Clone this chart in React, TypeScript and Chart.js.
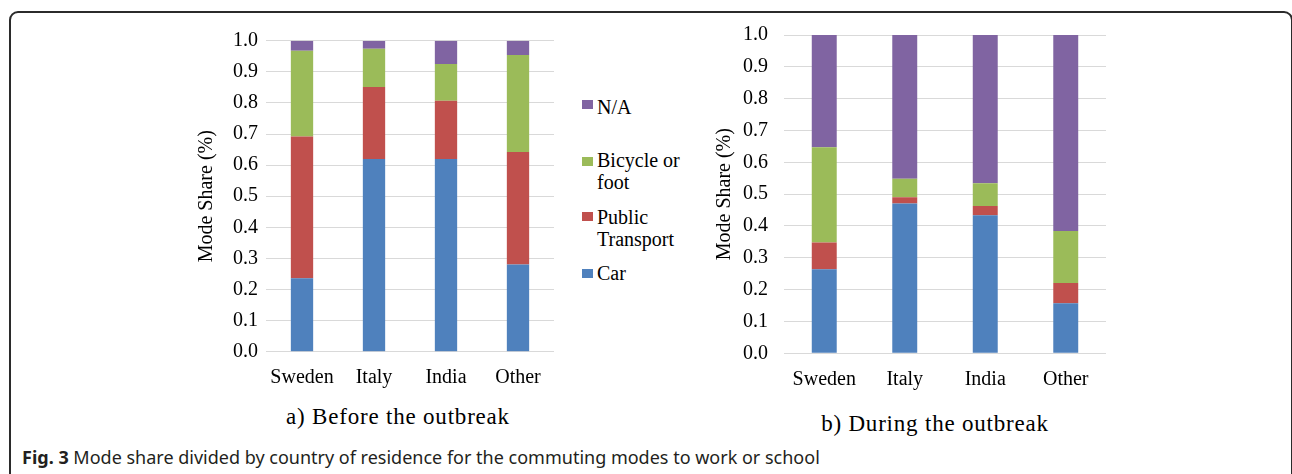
import React, { useEffect, useRef } from 'react';
import { Chart, registerables } from 'chart.js';

Chart.register(...registerables);

const categories = ['Sweden', 'Italy', 'India', 'Other'];
const seriesNames = ['Car', 'Public Transport', 'Bicycle or foot', 'N/A'];
const seriesColors = ['#4F81BD', '#C0504D', '#9BBB59', '#8064A2'];

const beforeCar = [0.236, 0.62, 0.62, 0.28];
const beforePublic = [0.456, 0.231, 0.187, 0.362];
const beforeBike = [0.276, 0.123, 0.118, 0.312];
const beforeNA = [0.032, 0.025, 0.075, 0.046];

const duringCar = [0.264, 0.471, 0.434, 0.157];
const duringPublic = [0.084, 0.019, 0.029, 0.064];
const duringBike = [0.299, 0.058, 0.071, 0.163];
const duringNA = [0.353, 0.452, 0.466, 0.616];

const yTickLabels = ['0.0', '0.1', '0.2', '0.3', '0.4', '0.5', '0.6', '0.7', '0.8', '0.9', '1.0'];
const yAxisTitle = 'Mode Share (%)';

const legendEntries = [
  { idx: 3, lines: ['N/A'] },
  { idx: 2, lines: ['Bicycle or', 'foot'] },
  { idx: 1, lines: ['Public', 'Transport'] },
  { idx: 0, lines: ['Car'] },
];

const SERIF = '"Liberation Serif", "Times New Roman", serif';

type Geo = {
  padLeft: number; padRight: number; padTop: number; padBottom: number;
  yWidth: number; xHeight: number; yTickPad: number; xTickPad: number;
};

function StackChart(props: { series: number[][]; geo: Geo; left: number; top: number; width: number; height: number }) {
  const ref = useRef<HTMLCanvasElement | null>(null);
  useEffect(() => {
    if (!ref.current) return;
    const g = props.geo;
    const chart = new Chart(ref.current, {
      type: 'bar',
      data: {
        labels: categories,
        datasets: props.series.map((d, i) => ({
          label: seriesNames[i],
          data: d,
          backgroundColor: seriesColors[i],
          borderWidth: 0,
          barPercentage: 0.31,
          categoryPercentage: 1,
        })),
      },
      options: {
        animation: false,
        responsive: false,
        devicePixelRatio: 1,
        layout: { padding: { left: g.padLeft, right: g.padRight, top: g.padTop, bottom: g.padBottom } },
        plugins: { legend: { display: false }, tooltip: { enabled: false } },
        scales: {
          x: {
            stacked: true,
            grid: { display: false },
            border: { display: false },
            ticks: { color: '#000', font: { family: SERIF, size: 20 }, padding: g.xTickPad, maxRotation: 0 },
            afterFit: (axis: any) => { axis.height = g.xHeight; },
          },
          y: {
            stacked: true,
            min: 0,
            max: 1,
            grid: { color: '#d9d9d9', lineWidth: 1, drawTicks: false },
            border: { display: false },
            ticks: {
              stepSize: 0.1,
              color: '#000',
              font: { family: SERIF, size: 20 },
              padding: g.yTickPad,
              callback: (_v: any, i: number) => yTickLabels[i],
            },
            title: { display: true, text: yAxisTitle, color: '#000', font: { family: SERIF, size: 20 }, padding: { top: 4, bottom: 4 } },
            afterFit: (axis: any) => { axis.width = g.yWidth; },
          },
        },
      },
    });
    return () => chart.destroy();
  }, []);
  return (
    <canvas
      ref={ref}
      width={props.width}
      height={props.height}
      style={{ position: 'absolute', left: props.left, top: props.top, width: props.width, height: props.height }}
    />
  );
}

export default function App() {
  const legendTops = [106.7, 160, 216.7, 272.7];
  const squareCenters = [104.5, 161.7, 216.3, 273.3];
  return (
    <div style={{ position: 'absolute', left: 0, top: 0, width: 1292, height: 474, overflow: 'hidden', background: '#fff' }}>
      <div style={{ position: 'absolute', left: 9, top: 11, width: 1284, height: 480, border: '2px solid #2b2b2b', borderRadius: 9, boxSizing: 'border-box' }} />
      <StackChart
        series={[beforeCar, beforePublic, beforeBike, beforeNA]}
        geo={{ padLeft: 11, padRight: 26, padTop: 20.7, padBottom: 8.3, yWidth: 75, xHeight: 40, yTickPad: 8, xTickPad: 6 }}
        left={180} top={20} width={400} height={380}
      />
      <StackChart
        series={[duringCar, duringPublic, duringBike, duringNA]}
        geo={{ padLeft: 9, padRight: 34, padTop: 28, padBottom: 3.7, yWidth: 75, xHeight: 50, yTickPad: 16, xTickPad: 6 }}
        left={700} top={7} width={440} height={400}
      />
      {legendEntries.map((e, k) => (
        <React.Fragment key={k}>
          <div style={{ position: 'absolute', left: 582, top: squareCenters[k] - 4.5, width: 11, height: 9, background: seriesColors[e.idx] }} />
          <div style={{ position: 'absolute', left: 597, top: legendTops[k] - 11, fontFamily: SERIF, fontSize: 20, lineHeight: '22px', color: '#000', whiteSpace: 'nowrap' }}>
            {e.lines.map((l, j) => <div key={j}>{l}</div>)}
          </div>
        </React.Fragment>
      ))}
      <div style={{ position: 'absolute', left: 248, width: 300, top: 404.7, textAlign: 'center', fontFamily: SERIF, fontSize: 23, letterSpacing: '0.8px', lineHeight: '23px', color: '#000', whiteSpace: 'nowrap' }}>
        a) Before the outbreak
      </div>
      <div style={{ position: 'absolute', left: 785, width: 300, top: 412.4, textAlign: 'center', fontFamily: SERIF, fontSize: 23, letterSpacing: '0.8px', lineHeight: '23px', color: '#000', whiteSpace: 'nowrap' }}>
        b) During the outbreak
      </div>
      <div style={{ position: 'absolute', left: 22, top: 447, fontFamily: '"Noto Sans", sans-serif', fontSize: 18, lineHeight: '20px', color: '#231f20', whiteSpace: 'nowrap' }}>
        <b>Fig. 3</b> Mode share divided by country of residence for the commuting modes to work or school
      </div>
    </div>
  );
}
